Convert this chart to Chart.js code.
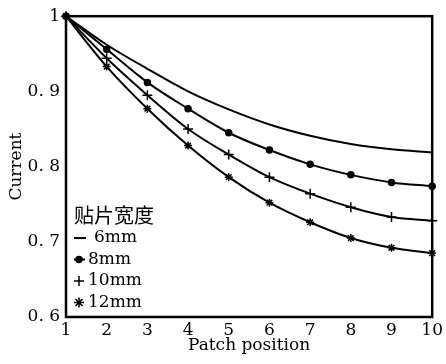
<!DOCTYPE html>
<html>
<head>
<meta charset="utf-8">
<script src="https://cdn.jsdelivr.net/npm/chart.js@4"></script>
<style>
    html, body { margin: 0; padding: 0; background: #fff; }
    #wrap { position: relative; width: 446px; height: 364px; }
</style>
</head>
<body>
<div id="wrap"><canvas id="currentChart" width="446" height="364"></canvas></div>
<script>
// Patch position vs. current, one series per patch width
const positions = [1, 2, 3, 4, 5, 6, 7, 8, 9, 10];
const current6mm = [1, 0.962, 0.930, 0.900, 0.876, 0.856, 0.841, 0.830, 0.823, 0.819];
const current8mm = [1, 0.956, 0.912, 0.877, 0.845, 0.822, 0.803, 0.789, 0.779, 0.774];
const current10mm = [1, 0.944, 0.895, 0.850, 0.816, 0.786, 0.764, 0.746, 0.733, 0.728];
const current12mm = [1, 0.933, 0.877, 0.828, 0.786, 0.752, 0.726, 0.705, 0.692, 0.685];
const seriesLabels = ['6mm', '8mm', '10mm', '12mm'];
const legendTitle = '贴片宽度';

const serif = "'DejaVu Serif', 'Liberation Serif', serif";

function toPoints(values) {
    return positions.map((p, i) => ({ x: p, y: values[i] }));
}

function makeDataset(label, values, style, radius) {
    return {
        label: label,
        data: toPoints(values),
        borderColor: '#000',
        backgroundColor: '#000',
        borderWidth: 2,
        pointStyle: style,
        pointRadius: radius,
        pointBorderWidth: 1.5,
        pointBorderColor: '#000',
        pointBackgroundColor: '#000',
        cubicInterpolationMode: 'monotone',
        clip: false
    };
}

// frame round the plot + the legend inside the chart area
const framePlugin = {
    id: 'frame',
    afterDraw(chart) {
        const ctx = chart.ctx;
        const a = chart.chartArea;
        ctx.save();
        ctx.strokeStyle = '#000';
        ctx.lineWidth = 2.5;
        ctx.strokeRect(a.left, a.top, a.right - a.left, a.bottom - a.top);

        // legend
        const x0 = a.left + 8;
        ctx.fillStyle = '#000';
        ctx.textBaseline = 'middle';
        ctx.textAlign = 'left';
        ctx.font = "20px 'Noto Sans CJK SC', sans-serif";
        ctx.fillText(legendTitle, x0, 215);

        ctx.font = '17px ' + serif;
        chart.data.datasets.forEach((ds, i) => {
            const y = 238 + i * 21.5;
            const sx = x0 + 5;
            ctx.lineWidth = 2;
            if (i === 0) {
                ctx.beginPath();
                ctx.moveTo(sx - 5, y);
                ctx.lineTo(sx + 7, y);
                ctx.stroke();
            } else {
                if (i === 1) {
                    ctx.beginPath();
                    ctx.moveTo(sx - 5, y);
                    ctx.lineTo(sx + 6, y);
                    ctx.stroke();
                }
                ctx.lineWidth = 1.5;
                Chart.helpers.drawPoint(ctx, {
                    pointStyle: ds.pointStyle,
                    radius: i === 1 ? 3 : 5,
                    borderWidth: 1.5
                }, sx, y);
            }
            ctx.fillText(ds.label, i === 0 ? x0 + 20 : x0 + 14, y);
        });
        ctx.restore();
    }
};

document.addEventListener('DOMContentLoaded', function() {
    const ctx = document.getElementById('currentChart');
    new Chart(ctx, {
        type: 'line',
        data: {
            datasets: [
                makeDataset(seriesLabels[0], current6mm, 'circle', 0),
                makeDataset(seriesLabels[1], current8mm, 'circle', 3),
                makeDataset(seriesLabels[2], current10mm, 'cross', 5),
                makeDataset(seriesLabels[3], current12mm, 'star', 4)
            ]
        },
        options: {
            responsive: false,
            animation: false,
            layout: { padding: { left: 0, right: 13, top: 12, bottom: 8 } },
            plugins: {
                legend: { display: false },
                tooltip: { enabled: false }
            },
            scales: {
                x: {
                    type: 'linear',
                    min: 1,
                    max: 10,
                    grid: { display: false, drawTicks: false },
                    border: { display: false },
                    ticks: {
                        stepSize: 1,
                        padding: 3,
                        color: '#000',
                        font: { family: serif, size: 17 }
                    },
                    title: {
                        display: true,
                        text: 'Patch position',
                        color: '#000',
                        padding: { top: 0, bottom: 0 },
                        font: { family: serif, size: 17 }
                    },
                    afterFit(scale) { scale.height = 39; }
                },
                y: {
                    min: 0.6,
                    max: 1,
                    grid: { display: false, drawTicks: false },
                    border: { display: false },
                    ticks: {
                        stepSize: 0.1,
                        padding: 6,
                        color: '#000',
                        font: { family: serif, size: 17 },
                        callback: function(v) {
                            if (Math.abs(v - 1) < 1e-6) return '1';
                            return v.toFixed(1).replace('.', '. ');
                        }
                    },
                    title: {
                        display: true,
                        text: 'Current',
                        color: '#000',
                        padding: { top: 6, bottom: 4 },
                        font: { family: serif, size: 17 }
                    },
                    afterFit(scale) { scale.width = 66; }
                }
            }
        },
        plugins: [framePlugin]
    });
});
</script>
</body>
</html>
